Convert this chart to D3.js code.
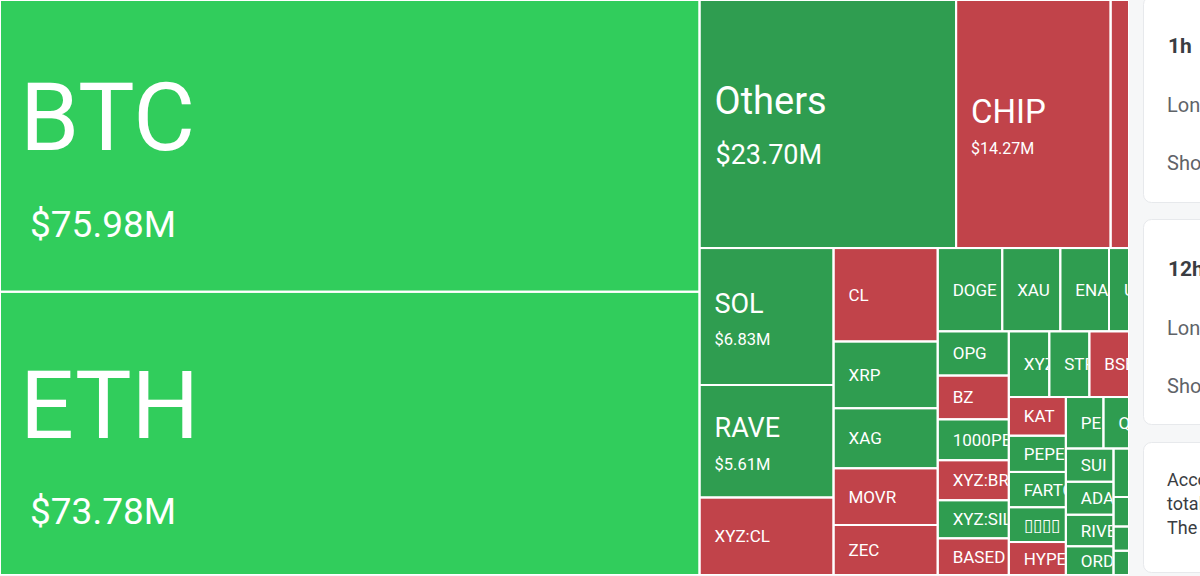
<!DOCTYPE html>
<html>
<head>
<meta charset="utf-8">
<script src="https://cdn.jsdelivr.net/npm/d3@7"></script>
<style>
  body { margin: 0; background: #f6f7f8; overflow: hidden; }
  svg { display: block; font-family: Roboto, "Noto Sans", sans-serif; }
</style>
</head>
<body>
<div class="canvas"></div>
<script>
// liquidation treemap data ($M)
const names = ["BTC", "ETH",
  "Others", "CHIP", "",
  "SOL", "RAVE", "XYZ:CL",
  "CL", "XRP", "XAG", "MOVR", "ZEC",
  "DOGE", "XAU", "ENA", "UNI",
  "OPG", "BZ", "1000PEPE", "XYZ:BRENTOIL", "XYZ:SILVER", "BASED",
  "XYZ:GOLD", "STRK", "BSB",
  "KAT", "PEPE", "FARTCOIN", "\u25AF\u25AF\u25AF\u25AF", "HYPE",
  "PENGU", "QNT",
  "SUI", "ADA", "RIVER", "ORDI",
  "", "", "", ""];
const values = [75.98, 73.78,
  23.70, 14.27, 1.70,
  6.83, 5.61, 3.87,
  3.62, 2.59, 2.33, 2.20, 1.94,
  2.00, 1.80, 1.51, 0.62,
  1.17, 1.16, 1.08, 1.06, 1.01, 0.97,
  0.99, 0.98, 0.97,
  0.82, 0.77, 0.75, 0.74, 0.70,
  0.72, 0.49,
  0.59, 0.585, 0.56, 0.51,
  0.28, 0.17, 0.14, 0.14];
const tones = ["longHi", "longHi",
  "long", "short", "short",
  "long", "long", "short",
  "short", "long", "long", "short", "short",
  "long", "long", "long", "long",
  "long", "short", "long", "short", "long", "short",
  "long", "long", "short",
  "short", "long", "long", "long", "short",
  "long", "long",
  "long", "long", "long", "long",
  "long", "long", "long", "long"];
// block each coin sits in (the nesting of the treemap)
const blocks = ["A", "A",
  "B1", "B1", "B1",
  "C1", "C1", "C1",
  "C2", "C2", "C2", "C2", "C2",
  "D1", "D1", "D1", "D1",
  "E1", "E1", "E1", "E1", "E1", "E1",
  "F1", "F1", "F1",
  "G1", "G1", "G1", "G1", "G1",
  "H1", "H1",
  "I1", "I1", "I1", "I1",
  "I2", "I2", "I2", "I2"];
const groupIds     = ["root", "A", "B", "B1", "B2", "C1", "C2", "C3", "D1", "D2", "E1", "E2", "F1", "F2", "G1", "G2", "H1", "H2", "I1", "I2"];
const groupParents = [null, "root", "root", "B", "B", "B2", "B2", "B2", "C3", "C3", "D2", "D2", "E2", "E2", "F2", "F2", "G2", "G2", "H2", "H2"];

const panelTitles = ["1h", "12h"];

const dims = {width: 1200, height: 576, mapW: 1129, mapH: 575};

const svg = d3.select('.canvas')
  .append('svg')
  .attr('width', dims.width)
  .attr('height', dims.height);

const rows = groupIds.map((id, i) => ({id: id, parentId: groupParents[i]}))
  .concat(names.map((n, i) => ({id: 'c' + i, parentId: blocks[i], name: n, value: values[i], tone: tones[i]})));

const root = d3.stratify()(rows).sum(d => d.value || 0);

d3.treemap()
  .tile(d3.treemapSliceDice)
  .size([dims.mapW, dims.mapH])
  .paddingInner(2)
  .paddingOuter(d => d.depth === 0 ? 1 : 0)(root);

const color = d3.scaleOrdinal()
  .domain(["longHi", "long", "short"])
  .range(["#31cd5c", "#2f9d50", "#c1434a"]);

// label sizes by liquidation value
const tier = d3.scaleThreshold()
  .domain([5, 10, 20, 50])
  .range([
    {L: 17, V: 0, lx: 14},
    {L: 27, V: 16.5, gap: 21, dy: 3, lx: 14, vx: 14},
    {L: 33, V: 16, gap: 19.5, dy: 2.5, lx: 14, vx: 14},
    {L: 38, V: 27, gap: 31, dy: 1.5, lx: 14, vx: 15},
    {L: 95, V: 37, gap: 60, dy: 14, lx: 19, vx: 29}
  ]);

svg.append('rect')
  .attr('width', dims.mapW)
  .attr('height', dims.mapH)
  .attr('fill', '#fff');

const leaves = root.leaves();
const defs = svg.append('defs');
defs.selectAll('clipPath').data(leaves).enter()
  .append('clipPath')
  .attr('id', (d, i) => 'clip' + i)
  .append('rect')
  .attr('x', d => d.x0).attr('y', d => d.y0)
  .attr('width', d => d.x1 - d.x0).attr('height', d => d.y1 - d.y0);

const cells = svg.append('g').selectAll('g').data(leaves).enter()
  .append('g')
  .attr('clip-path', (d, i) => `url(#clip${i})`);

cells.append('rect')
  .attr('x', d => d.x0).attr('y', d => d.y0)
  .attr('width', d => d.x1 - d.x0).attr('height', d => d.y1 - d.y0)
  .attr('fill', d => color(d.data.tone));

cells.each(function(d) {
  const t = tier(d.data.value);
  const g = d3.select(this);
  const cy = (d.y0 + d.y1) / 2;
  const capL = t.L * 0.711;
  if (!t.V) {
    g.append('text')
      .attr('x', d.x0 + t.lx).attr('y', cy + capL / 2)
      .attr('fill', '#fff').attr('font-size', t.L)
      .text(d.data.name);
    return;
  }
  const capV = t.V * 0.711;
  const top = cy - (capL + t.gap + capV) / 2 + t.dy;
  g.append('text')
    .attr('x', d.x0 + t.lx).attr('y', top + capL)
    .attr('fill', '#fff').attr('font-size', t.L)
    .text(d.data.name);
  g.append('text')
    .attr('x', d.x0 + t.vx).attr('y', top + capL + t.gap + capV)
    .attr('fill', '#fff').attr('font-size', t.V)
    .text('$' + d3.format('.2f')(d.data.value) + 'M');
});

// side panel cards
const panel = svg.append('g');
const cardTops = [-4, 219, 442];
const cardHeights = [206, 205, 130];
panel.selectAll('rect').data(cardTops).enter()
  .append('rect')
  .attr('x', 1143.5).attr('y', d => d + 0.5)
  .attr('width', 120).attr('height', (d, i) => cardHeights[i])
  .attr('rx', 8)
  .attr('fill', '#fff').attr('stroke', '#e7e9ec');

panelTitles.forEach((title, i) => {
  const y0 = cardTops[i];
  panel.append('text').attr('x', 1168).attr('y', y0 + 57)
    .attr('font-size', 21).attr('font-weight', 700).attr('fill', '#3a3d42').text(title);
  panel.append('text').attr('x', 1167).attr('y', y0 + 116)
    .attr('font-size', 20).attr('fill', '#5f6368').text('Long');
  panel.append('text').attr('x', 1167).attr('y', y0 + 174)
    .attr('font-size', 20).attr('fill', '#5f6368').text('Short');
});

['According', 'total', 'The'].forEach((w, i) => {
  panel.append('text').attr('x', 1167).attr('y', 486 + i * 24)
    .attr('font-size', 18).attr('fill', '#3a3d42').text(w);
});
</script>
</body>
</html>
